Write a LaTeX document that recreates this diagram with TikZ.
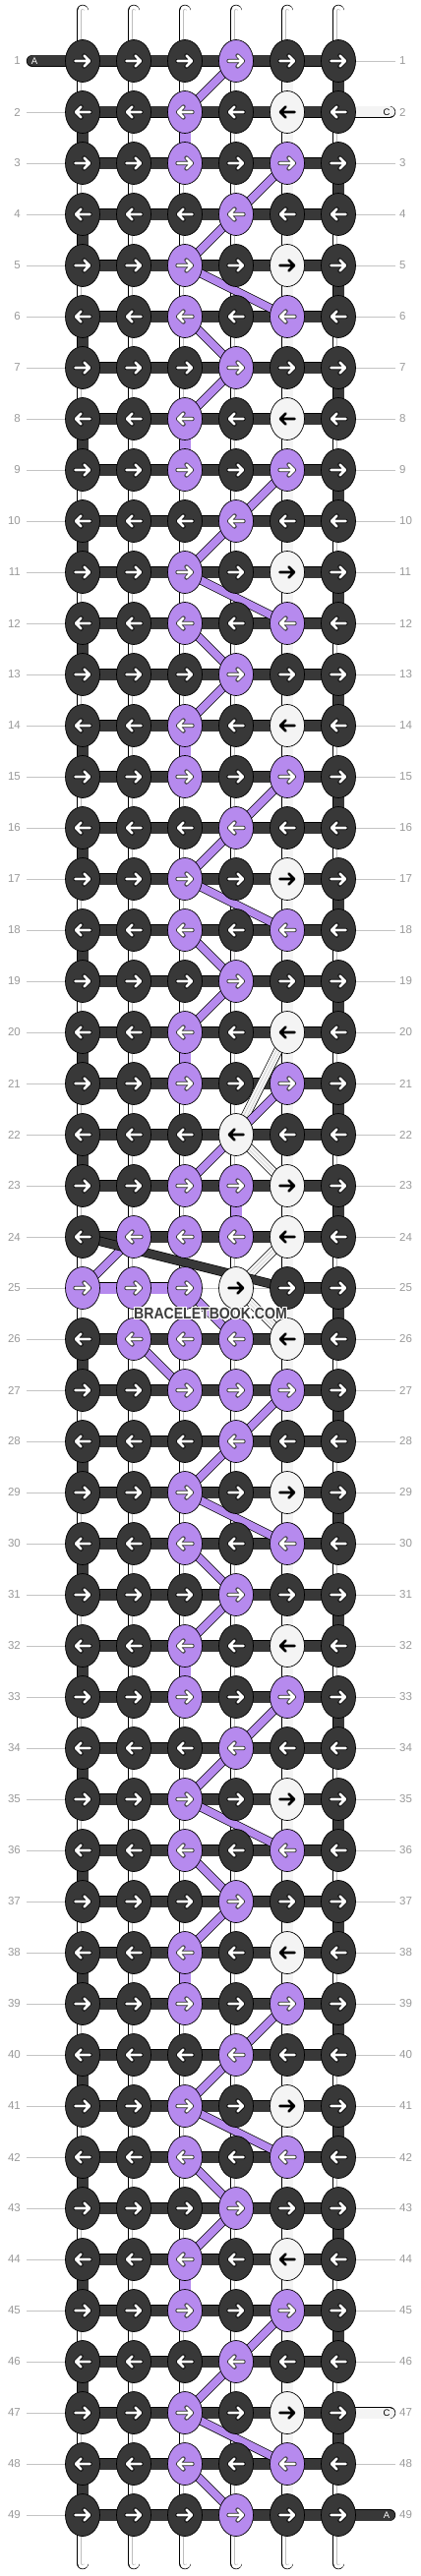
\documentclass[tikz,border=0pt]{standalone}
\usepackage{fontspec}
\setmainfont{Liberation Sans}
\usetikzlibrary{shapes.geometric}
\definecolor{cD}{HTML}{383838}
\definecolor{cP}{HTML}{B68AEE}
\definecolor{cW}{HTML}{F4F4F4}
\definecolor{guidegray}{HTML}{C4C4C4}
\definecolor{numgray}{HTML}{999999}
\definecolor{threadline}{HTML}{BDBDBD}
\definecolor{wmgray}{HTML}{3C3C3C}
\colorlet{aD}{white}\colorlet{aP}{white}\colorlet{aW}{black}
\colorlet{oD}{black}\colorlet{oP}{black!85}\colorlet{oW}{cW}
\pgfdeclarelayer{guides}
\pgfdeclarelayer{threads}
\pgfdeclarelayer{diagonals}
\pgfdeclarelayer{front}
\pgfsetlayers{guides,threads,diagonals,main,front}
\tikzset{
    strand/.style={draw=black,line width=.7pt,line cap=round,double=#1,double distance=11pt},
    warp/.style={strand=white,postaction={draw=threadline,line width=.5pt,line cap=round,double=white,double distance=3pt}},
    weft/.style={strand=cD},
    cstr/.style={strand=cW},
    pstr/.style={strand=cP},
    nostrand/.style={draw=none},
    pdiag/.style={strand=cP,double distance=7.5pt},
    ddiag/.style={strand=cD,double distance=8pt},
    wdiag/.style={strand=cW,double distance=8pt,postaction={draw=threadline,line width=.5pt,line cap=round,double=cW,double distance=2.5pt}},
    knot/.style={ellipse,draw=black,line width=.7pt,fill=c#1,minimum width=35pt,minimum height=43pt,inner sep=0pt},
    rownum/.style={text=numgray,font=\fontsize{11.5}{12}\selectfont,inner sep=0pt},
    guide/.style={draw=guidegray,line width=.9pt},
    tag/.style={font=\fontsize{9.5}{10}\selectfont,inner sep=0pt},
    wm/.style={font=\bfseries\fontsize{16}{16}\selectfont,inner sep=0pt}
}

\begin{document}
\begin{tikzpicture}[x=1pt,y=-1pt]
    \useasboundingbox (0,0) rectangle (428,2620);
    % knots, row by row
    \foreach \r/\ka/\kb/\kc/\kd/\ke/\kf in {
        1/D/D/D/P/D/D, 2/D/D/P/D/W/D, 3/D/D/P/D/P/D, 4/D/D/D/P/D/D, 5/D/D/P/D/W/D, 6/D/D/P/D/P/D, 7/D/D/D/P/D/D,
        8/D/D/P/D/W/D, 9/D/D/P/D/P/D, 10/D/D/D/P/D/D, 11/D/D/P/D/W/D, 12/D/D/P/D/P/D, 13/D/D/D/P/D/D, 14/D/D/P/D/W/D,
        15/D/D/P/D/P/D, 16/D/D/D/P/D/D, 17/D/D/P/D/W/D, 18/D/D/P/D/P/D, 19/D/D/D/P/D/D, 20/D/D/P/D/W/D, 21/D/D/P/D/P/D,
        22/D/D/D/W/D/D, 23/D/D/P/P/W/D, 24/D/P/P/P/W/D, 25/P/P/P/W/D/D, 26/D/P/P/P/W/D, 27/D/D/P/P/P/D, 28/D/D/D/P/D/D,
        29/D/D/P/D/W/D, 30/D/D/P/D/P/D, 31/D/D/D/P/D/D, 32/D/D/P/D/W/D, 33/D/D/P/D/P/D, 34/D/D/D/P/D/D, 35/D/D/P/D/W/D,
        36/D/D/P/D/P/D, 37/D/D/D/P/D/D, 38/D/D/P/D/W/D, 39/D/D/P/D/P/D, 40/D/D/D/P/D/D, 41/D/D/P/D/W/D, 42/D/D/P/D/P/D,
        43/D/D/D/P/D/D, 44/D/D/P/D/W/D, 45/D/D/P/D/P/D, 46/D/D/D/P/D/D, 47/D/D/P/D/W/D, 48/D/D/P/D/P/D, 49/D/D/D/P/D/D}{
        \ifodd\r\relax \def\dir{1}\else \def\dir{-1}\fi
        \foreach \k [count=\c] in {\ka,\kb,\kc,\kd,\ke,\kf}{
            \node[knot=\k] (k-\r-\c) at ({32+52*\c},{10+52*\r}) {};
            \draw[shift={(k-\r-\c.center)},xscale=\dir,draw=o\k,line width=4.2pt,line cap=round,line join=round]
                (-7.5,0) -- (7,0) (1.5,-5.5) -- (7,0) -- (1.5,5.5);
            \draw[shift={(k-\r-\c.center)},xscale=\dir,draw=a\k,line width=2.6pt,line cap=round,line join=round]
                (-7.5,0) -- (7,0) (1.5,-5.5) -- (7,0) -- (1.5,5.5);
        }
    }

    \begin{pgfonlayer}{guides}
        \foreach \r in {1,...,49}{
            \coordinate (gl-\r) at (27,{10+52*\r});
            \coordinate (gr-\r) at (402,{10+52*\r});
            \draw[guide] (gl-\r) -- (gr-\r);
            \node[rownum,anchor=east] (nl-\r) at (21,{10+52*\r}) {\r};
            \node[rownum,anchor=west] (nr-\r) at (406,{10+52*\r}) {\r};
        }
    \end{pgfonlayer}

    \begin{pgfonlayer}{threads}
        \foreach \c in {1,...,6}{
            \coordinate (top-\c) at ({32+52*\c},11);
            \coordinate (bot-\c) at ({32+52*\c},2607);
            \draw[warp] (top-\c) -- (k-1-\c.center);
            \draw[warp] (k-49-\c.center) -- (bot-\c);
        }
        % straight down between two rows
        \foreach \r in {1,...,48}{
            \foreach \c in {1,...,6}{
                \pgfmathtruncatemacro\nr{\r+1}
                \pgfmathtruncatemacro\m{mod(\r,6)}
                \def\st{warp}
                \ifnum\c=5 \def\st{cstr}\fi
                \ifodd\r\relax \ifnum\c=6 \def\st{weft}\fi
                \else \ifnum\c=1 \ifnum\r=24 \else \def\st{weft}\fi\fi\fi
                \ifnum\c=3 \ifnum\m=2 \ifnum\r=26 \else \def\st{pstr}\fi\fi\fi
                \ifnum\r=23 \ifnum\c=4 \def\st{pstr}\fi\fi
                \draw[\st] (k-\r-\c.center) -- (k-\nr-\c.center);
            }
        }
        % across a row
        \foreach \r in {1,...,49}{
            \foreach \c in {1,...,5}{
                \pgfmathtruncatemacro\nc{\c+1}
                \def\st{weft}
                \ifnum\r=25 \ifnum\c<3 \def\st{pstr}\else \ifnum\c<5 \def\st{nostrand}\fi\fi\fi
                \draw[\st] (k-\r-\c.center) -- (k-\r-\nc.center);
            }
        }
        \coordinate (tailA1) at (33,62);
        \coordinate (tailC2) at (396,114);
        \coordinate (tailC47) at (396,2454);
        \coordinate (tailA49) at (396,2558);
        \draw[weft] (tailA1) -- (k-1-1.center);
        \draw[cstr] (k-2-6.center) -- (tailC2);
        \draw[cstr] (k-47-6.center) -- (tailC47);
        \draw[weft] (k-49-6.center) -- (tailA49);
    \end{pgfonlayer}

    \begin{pgfonlayer}{diagonals}
        \draw[wdiag] (k-20-5.center) -- (k-22-4.center);
        \draw[wdiag] (k-22-4.center) -- (k-23-5.center);
        \draw[wdiag] (k-24-5.center) -- (k-25-4.center);
        \draw[wdiag] (k-25-4.center) -- (k-26-5.center);
        \foreach \r in {1,...,22,27,28,...,48}{
            \pgfmathtruncatemacro\nr{\r+1}
            \pgfmathtruncatemacro\m{mod(\r,6)}
            \ifcase\m
                \draw[pdiag] (k-\r-3.center) -- (k-\nr-4.center);
            \or \draw[pdiag] (k-\r-4.center) -- (k-\nr-3.center);
            \or
            \or \draw[pdiag] (k-\r-5.center) -- (k-\nr-4.center);
            \or \draw[pdiag] (k-\r-4.center) -- (k-\nr-3.center);
            \or \draw[pdiag] (k-\r-3.center) -- (k-\nr-5.center);
            \fi
        }
        \draw[pdiag] (k-24-2.center) -- (k-25-1.center);
        \draw[pdiag] (k-25-3.center) -- (k-26-4.center);
        \draw[pdiag] (k-26-2.center) -- (k-27-3.center);
        \draw[ddiag] (k-24-1.center) -- (k-25-5.center);
    \end{pgfonlayer}

    \begin{pgfonlayer}{front}
        \node[tag,text=white] (labA1) at (35,62) {A};
        \node[tag,text=black] (labC2) at (393,114) {C};
        \node[tag,text=black] (labC47) at (393,2454) {C};
        \node[tag,text=white] (labA49) at (393,2558) {A};
        \foreach \dx/\dy [count=\i] in {-1/-1,0/-1,1/-1,-1/0,1/0,-1/1,0/1,1/1}
            \node[wm,text=white] (wm-\i) at ({214+\dx},{1336+\dy}) {\scalebox{.88}[1]{BRACELETBOOK.COM}};
        \node[wm,text=wmgray] (wm) at (214,1336) {\scalebox{.88}[1]{BRACELETBOOK.COM}};
    \end{pgfonlayer}
\end{tikzpicture}
\end{document}
